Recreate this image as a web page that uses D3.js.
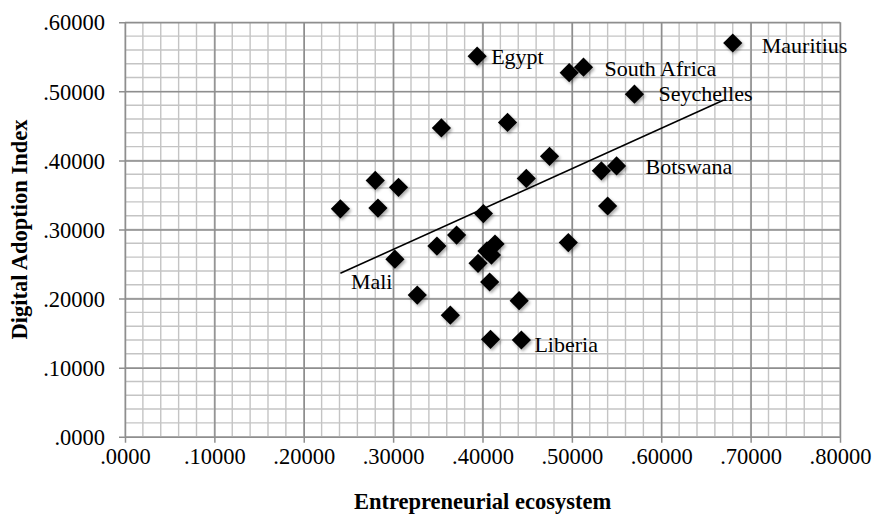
<!DOCTYPE html>
<html>
<head>
<meta charset="utf-8">
<script src="https://cdn.jsdelivr.net/npm/d3@7"></script>
<style>
  body { margin: 0; background: #fff; }
  text { font-family: "Liberation Serif", "Times New Roman", serif; fill: #000; }
</style>
</head>
<body>
<script>
// values
var entreEco = [0.241, 0.280, 0.283, 0.306, 0.302, 0.327, 0.354, 0.349, 0.371, 0.364,
                0.394, 0.428, 0.497, 0.513, 0.570, 0.680, 0.449, 0.475, 0.533, 0.550,
                0.540, 0.401, 0.496, 0.414, 0.405, 0.395, 0.410, 0.408, 0.441, 0.409, 0.4435]
var digiAdopt = [0.330, 0.371, 0.331, 0.361, 0.257, 0.205, 0.447, 0.276, 0.292, 0.176,
                 0.551, 0.455, 0.527, 0.535, 0.496, 0.570, 0.374, 0.406, 0.385, 0.392,
                 0.334, 0.323, 0.281, 0.279, 0.269, 0.251, 0.263, 0.224, 0.197, 0.141, 0.140]

var countryNames = ["Egypt", "South Africa", "Seychelles", "Mauritius", "Botswana", "Mali", "Liberia"]
var countryPoint = [10, 13, 14, 15, 19, 4, 30]   // index in the arrays above

var trendX = [0.241, 0.670]
var trendY = [0.2366, 0.4875]

var xTicks = [0, 0.1, 0.2, 0.3, 0.4, 0.5, 0.6, 0.7, 0.8]
var xTickLabels = [".0000", ".10000", ".20000", ".30000", ".40000", ".50000", ".60000", ".70000", ".80000"]
var yTicks = [0, 0.1, 0.2, 0.3, 0.4, 0.5, 0.6]
var yTickLabels = [".0000", ".10000", ".20000", ".30000", ".40000", ".50000", ".60000"]

var width = 872, height = 516

var svg = d3.select("body").append("svg")
    .attr("width", width)
    .attr("height", height)

var x = d3.scaleLinear().domain([0, 0.8]).range([125, 840])
var y = d3.scaleLinear().domain([0, 0.6]).range([436.7, 22.3])

// shadow for the diamonds
var filt = svg.append("defs").append("filter")
    .attr("id", "shadow")
    .attr("x", "-50%").attr("y", "-50%")
    .attr("width", "200%").attr("height", "200%")
filt.append("feDropShadow")
    .attr("dx", 1.5).attr("dy", 2)
    .attr("stdDeviation", 1.6)
    .attr("flood-color", "#000")
    .attr("flood-opacity", 0.35)

// minor grid, every .02
var minorX = d3.range(0, 0.8001, 0.02)
var minorY = d3.range(0, 0.6001, 0.02)
svg.append("g").selectAll("line")
    .data(minorX)
    .enter()
    .append("line")
    .attr("x1", function (d) { return x(d) })
    .attr("x2", function (d) { return x(d) })
    .attr("y1", y(0)).attr("y2", y(0.6))
    .attr("stroke", "#c4c4c4")
    .attr("stroke-width", 1.4)
svg.append("g").selectAll("line")
    .data(minorY)
    .enter()
    .append("line")
    .attr("y1", function (d) { return y(d) })
    .attr("y2", function (d) { return y(d) })
    .attr("x1", x(0)).attr("x2", x(0.8))
    .attr("stroke", "#c4c4c4")
    .attr("stroke-width", 1.4)

// axes with major grid lines
var xAxis = d3.axisBottom(x)
    .tickValues(xTicks)
    .tickSize(-(y(0) - y(0.6)))
    .tickFormat(function (d, i) { return xTickLabels[i] })
var yAxis = d3.axisLeft(y)
    .tickValues(yTicks)
    .tickSize(-(x(0.8) - x(0)))
    .tickFormat(function (d, i) { return yTickLabels[i] })

var gx = svg.append("g")
    .attr("transform", "translate(0," + y(0) + ")")
    .call(xAxis)
gx.select(".domain").remove()
gx.selectAll(".tick line")
    .attr("stroke", "#8e8e8e")
    .attr("stroke-width", 1.5)
    .attr("y1", 6)
gx.selectAll(".tick text")
    .attr("y", 27)
    .attr("dy", 0)
    .style("font-size", "22.5px")
    .style("font-family", "Liberation Serif")

var gy = svg.append("g")
    .attr("transform", "translate(" + x(0) + ",0)")
    .call(yAxis)
gy.select(".domain").remove()
gy.selectAll(".tick line")
    .attr("stroke", "#8e8e8e")
    .attr("stroke-width", 1.5)
    .attr("x1", -6)
gy.selectAll(".tick text")
    .attr("x", -20)
    .attr("dy", "0.34em")
    .style("font-size", "22.5px")
    .style("font-family", "Liberation Serif")

// trend line
svg.append("line")
    .attr("x1", x(trendX[0])).attr("y1", y(trendY[0]))
    .attr("x2", x(trendX[1])).attr("y2", y(trendY[1]))
    .attr("stroke", "#000")
    .attr("stroke-width", 1.6)

// diamonds
var r = 9.6
var pts = entreEco.map(function (v, i) { return [v, digiAdopt[i]] })
svg.append("g").selectAll("path")
    .data(pts)
    .enter()
    .append("path")
    .attr("d", "M0," + (-r) + "L" + r + ",0L0," + r + "L" + (-r) + ",0Z")
    .attr("transform", function (d) { return "translate(" + x(d[0]) + "," + y(d[1]) + ")" })
    .attr("fill", "#000")
    .attr("filter", "url(#shadow)")

// country labels, offset from their point in pixels
var labelDx = [14, 21, 24, 29, 29, -44, 13]
var labelDy = [8, 9, 7, 10, 8, 30, 12]
svg.append("g").selectAll("text")
    .data(countryNames)
    .enter()
    .append("text")
    .attr("x", function (d, i) { return x(entreEco[countryPoint[i]]) + labelDx[i] })
    .attr("y", function (d, i) { return y(digiAdopt[countryPoint[i]]) + labelDy[i] })
    .style("font-size", "22px")
    .text(function (d) { return d })

// axis titles
svg.append("text")
    .attr("x", (x(0) + x(0.8)) / 2)
    .attr("y", 509)
    .attr("text-anchor", "middle")
    .style("font-size", "22.5px")
    .style("font-weight", "bold")
    .text("Entrepreneurial ecosystem")

svg.append("text")
    .attr("transform", "translate(27," + ((y(0) + y(0.6)) / 2) + ") rotate(-90)")
    .attr("text-anchor", "middle")
    .style("font-size", "22.5px")
    .style("font-weight", "bold")
    .text("Digital Adoption Index")
</script>
</body>
</html>
